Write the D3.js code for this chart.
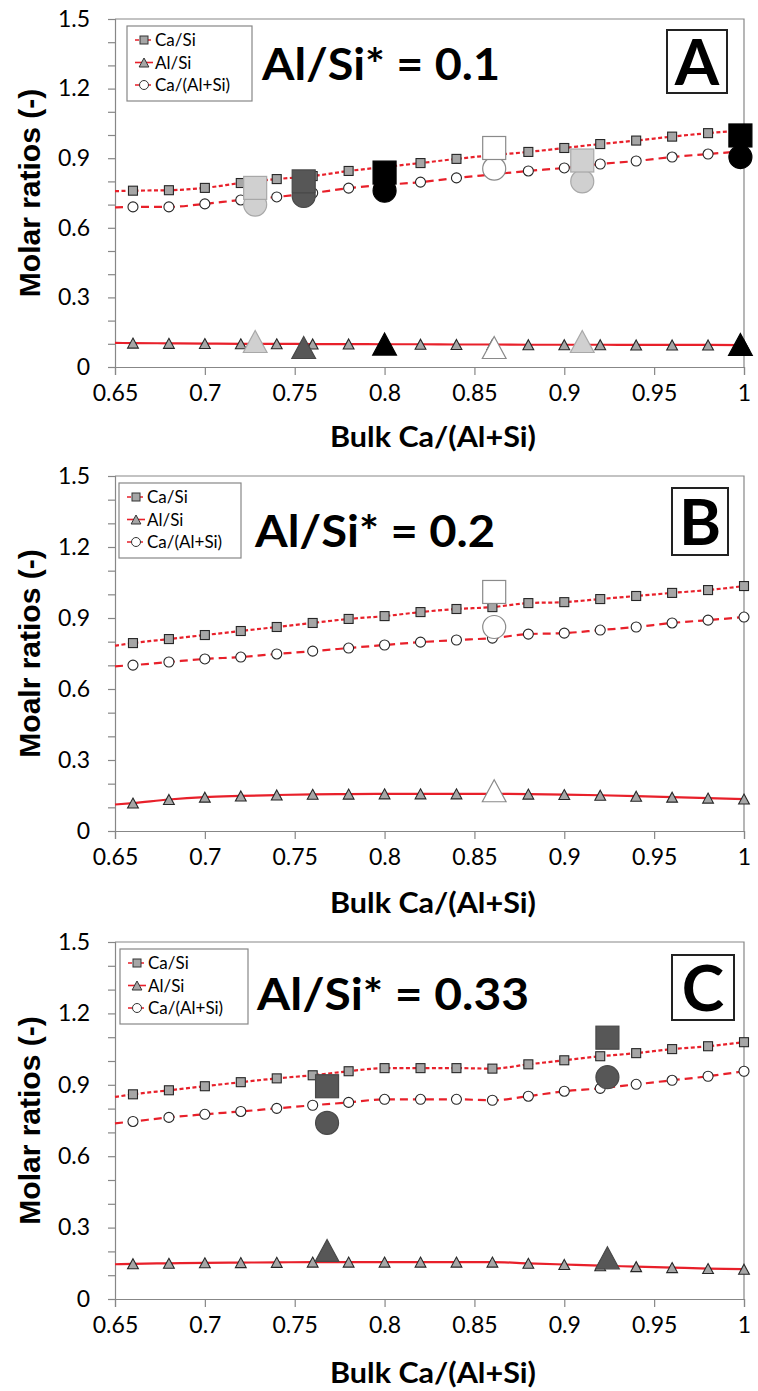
<!DOCTYPE html>
<html><head><meta charset="utf-8">
<script src="https://cdn.jsdelivr.net/npm/d3@7"></script>
<style>body{margin:0;background:#fff} svg{display:block}</style>
</head><body>
<script>
// ---------------- DATA ----------------
const xSim = [0.66,0.68,0.70,0.72,0.74,0.76,0.78,0.80,0.82,0.84,0.86,0.88,0.90,0.92,0.94,0.96,0.98,1.00];
const xTicks = [0.65,0.7,0.75,0.8,0.85,0.9,0.95,1];
const yTicks = [0,0.3,0.6,0.9,1.2,1.5];
const yMinorTicks = [0.1,0.2,0.4,0.5,0.7,0.8,1.0,1.1,1.3,1.4];
const seriesNames = ['Ca/Si','Al/Si','Ca/(Al+Si)'];
const panelLabels = ['A','B','C'];
const panelTitles = ['Al/Si* = 0.1','Al/Si* = 0.2','Al/Si* = 0.33'];
const yTitles = ['Molar ratios (-)','Moalr ratios (-)','Molar ratios (-)'];
const xTitle = 'Bulk Ca/(Al+Si)';

// Panel A (Al/Si* = 0.1) model
const A_caSi   = [0.760,0.762,0.772,0.793,0.810,0.823,0.845,0.862,0.879,0.897,0.913,0.927,0.944,0.961,0.976,0.993,1.008,1.020];
const A_alSi   = [0.103,0.102,0.101,0.100,0.100,0.099,0.099,0.098,0.098,0.097,0.097,0.096,0.096,0.096,0.095,0.095,0.095,0.094];
const A_caAlSi = [0.690,0.690,0.703,0.720,0.733,0.750,0.771,0.785,0.797,0.815,0.830,0.845,0.858,0.875,0.888,0.905,0.918,0.930];
const A_start  = [0.758,0.104,0.688];   // Ca/Si, Al/Si, Ca/(Al+Si) at 0.65
// Panel A experiments
const A_expX      = [0.728,0.755,0.800,0.861,0.910,0.998];
const A_expSample = ['light','dark','black','white','light','black'];
const A_expCaSi   = [0.772,0.800,0.838,0.944,0.890,0.998];
const A_expAlSi   = [0.110,0.084,0.099,0.084,0.110,0.097];
const A_expCaAlSi = [0.700,0.737,0.760,0.855,0.800,0.905];

// Panel B (Al/Si* = 0.2) model
const B_caSi   = [0.794,0.811,0.828,0.845,0.862,0.879,0.896,0.908,0.925,0.938,0.946,0.963,0.967,0.980,0.993,1.006,1.018,1.035];
const B_alSi   = [0.118,0.133,0.143,0.148,0.152,0.155,0.156,0.157,0.157,0.157,0.157,0.156,0.154,0.151,0.147,0.143,0.139,0.135];
const B_caAlSi = [0.701,0.714,0.727,0.735,0.748,0.760,0.773,0.786,0.798,0.807,0.815,0.832,0.836,0.849,0.862,0.879,0.891,0.904];
const B_start  = [0.783,0.112,0.696];
const B_expX      = [0.861];
const B_expSample = ['white'];
const B_expCaSi   = [1.010];
const B_expAlSi   = [0.170];
const B_expCaAlSi = [0.862];

// Panel C (Al/Si* = 0.33) model
const C_caSi   = [0.860,0.877,0.894,0.911,0.927,0.940,0.957,0.970,0.970,0.970,0.968,0.986,1.003,1.020,1.033,1.050,1.062,1.079];
const C_alSi   = [0.148,0.150,0.152,0.153,0.154,0.155,0.155,0.155,0.155,0.155,0.155,0.150,0.145,0.140,0.136,0.132,0.128,0.125];
const C_caAlSi = [0.746,0.763,0.776,0.788,0.801,0.814,0.826,0.839,0.839,0.839,0.835,0.852,0.873,0.885,0.902,0.919,0.936,0.957];
const C_start  = [0.849,0.146,0.738];
const C_expX      = [0.768,0.924];
const C_expSample = ['dark','dark'];
const C_expCaSi   = [0.894,1.098];
const C_expAlSi   = [0.204,0.173];
const C_expCaAlSi = [0.740,0.932];

// ---------------- LAYOUT / STYLE ----------------
const W = 758, H = 1391;
const left = 115, right = 744;
const layout = [
  {top:19,  bottom:367,  legX:127, legW:125, titleX:262, titleDy:61, titleW:238, boxX:667, boxW:60, boxDy:11, boxH:63, xtDy:80},
  {top:476, bottom:831,  legX:119, legW:122, titleX:255, titleDy:71, titleW:240, boxX:672, boxW:56, boxDy:12, boxH:67, xtDy:82},
  {top:942, bottom:1299, legX:120, legW:128, titleX:257, titleDy:68, titleW:272, boxX:672, boxW:62, boxDy:13, boxH:65, xtDy:84}
];
const panelData = [
  {model:[A_caSi,A_alSi,A_caAlSi], start:A_start, exp:{x:A_expX,s:A_expSample,caSi:A_expCaSi,alSi:A_expAlSi,caAlSi:A_expCaAlSi}},
  {model:[B_caSi,B_alSi,B_caAlSi], start:B_start, exp:{x:B_expX,s:B_expSample,caSi:B_expCaSi,alSi:B_expAlSi,caAlSi:B_expCaAlSi}},
  {model:[C_caSi,C_alSi,C_caAlSi], start:C_start, exp:{x:C_expX,s:C_expSample,caSi:C_expCaSi,alSi:C_expAlSi,caAlSi:C_expCaAlSi}}
];
const sampleStyle = {
  light:{fill:'#d0d0d0', stroke:'#a8a8a8'},
  dark: {fill:'#575757', stroke:'#484848'},
  black:{fill:'#000000', stroke:'#000000'},
  white:{fill:'#ffffff', stroke:'#8a8a8a'}
};
const RED = '#e8202a';
const lineDash = ['4,2.5', null, '8,5'];
const axisGray = '#878787';
const FONT = 'Lato, "Open Sans", sans-serif';

const svg = d3.select('body').append('svg').attr('width', W).attr('height', H)
  .style('background', '#fff');

const x = d3.scaleLinear().domain([0.65, 1]).range([left, right]);

function tri(cx, cy, w, h) {
  return `M${cx},${cy - h/2}L${cx + w/2},${cy + h/2}L${cx - w/2},${cy + h/2}Z`;
}
function drawMarker(g, type, cx, cy, size, fill, stroke, sw) {
  if (type === 0) {
    g.append('rect').attr('x', cx - size/2).attr('y', cy - size/2).attr('width', size).attr('height', size)
      .attr('fill', fill).attr('stroke', stroke).attr('stroke-width', sw);
  } else if (type === 1) {
    g.append('path').attr('d', tri(cx, cy, size * 1.08, size)).attr('fill', fill)
      .attr('stroke', stroke).attr('stroke-width', sw).attr('stroke-linejoin', 'miter');
  } else {
    g.append('circle').attr('cx', cx).attr('cy', cy).attr('r', size/2)
      .attr('fill', fill).attr('stroke', stroke).attr('stroke-width', sw);
  }
}
const smallFill = ['#a6a6a6', '#a6a6a6', '#ffffff'];
const smallStroke = '#262626';

layout.forEach((L, i) => {
  const P = panelData[i];
  const y = d3.scaleLinear().domain([0, 1.5]).range([L.bottom, L.top]);
  const g = svg.append('g');

  // frame (top & right)
  g.append('path').attr('d', `M${left},${L.top}H${right}V${L.bottom}`)
    .attr('fill', 'none').attr('stroke', axisGray).attr('stroke-width', 1.2);

  // x axis
  const xa = g.append('g').attr('transform', `translate(0,${L.bottom})`)
    .call(d3.axisBottom(x).tickValues(xTicks).tickSize(8).tickPadding(10)
      .tickFormat(d => String(+d.toFixed(2))));
  xa.select('.domain').attr('stroke', axisGray).attr('stroke-width', 1.2);
  xa.selectAll('.tick line').attr('stroke', axisGray).attr('stroke-width', 1.2);
  xa.selectAll('.tick text').attr('font-family', FONT).attr('font-size', 23).attr('fill', '#000');

  // y axis minor ticks
  const ym = g.append('g').attr('transform', `translate(${left},0)`)
    .call(d3.axisLeft(y).tickValues(yMinorTicks).tickSize(7).tickFormat(''));
  ym.select('.domain').remove();
  ym.selectAll('.tick line').attr('stroke', axisGray).attr('stroke-width', 1.2);
  // y axis major
  const ya = g.append('g').attr('transform', `translate(${left},0)`)
    .call(d3.axisLeft(y).tickValues(yTicks).tickSize(7).tickPadding(18)
      .tickFormat(d => String(+d.toFixed(1))));
  ya.select('.domain').attr('stroke', axisGray).attr('stroke-width', 1.2);
  ya.selectAll('.tick line').attr('stroke', axisGray).attr('stroke-width', 1.2);
  ya.selectAll('.tick text').attr('font-family', FONT).attr('font-size', 23).attr('fill', '#000');

  // axis titles
  g.append('text').attr('x', 433).attr('y', L.bottom + L.xtDy)
    .attr('text-anchor', 'middle').attr('font-family', FONT).attr('font-weight', 700)
    .attr('font-size', 28).attr('textLength', 206).attr('lengthAdjust', 'spacingAndGlyphs').text(xTitle);
  g.append('text').attr('transform', `translate(39.5,${(L.top + L.bottom) / 2}) rotate(-90)`)
    .attr('text-anchor', 'middle').attr('font-family', '"Liberation Sans", Arial, sans-serif')
    .attr('font-weight', 700).attr('font-size', 30).text(yTitles[i]);

  // model lines
  const lineGen = d3.line().x(d => x(d[0])).y(d => y(d[1])).curve(d3.curveMonotoneX);
  P.model.forEach((vals, k) => {
    const pts = [[0.65, P.start[k]]].concat(xSim.map((xv, j) => [xv, vals[j]]));
    g.append('path').attr('d', lineGen(pts)).attr('fill', 'none')
      .attr('stroke', RED).attr('stroke-width', 2.2)
      .attr('stroke-dasharray', lineDash[k]);
  });

  // small markers
  const sm = g.append('g');
  P.model.forEach((vals, k) => {
    xSim.forEach((xv, j) => {
      const sz = k === 0 ? 9 : 10;
      drawMarker(sm, k, x(xv), y(vals[j]), sz, smallFill[k], smallStroke, 1.1);
    });
  });

  // experimental (large) markers: circles, then squares, then triangles
  const E = P.exp;
  const em = g.append('g');
  const keys = ['caAlSi', 'caSi', 'alSi'];
  const types = [2, 0, 1];
  keys.forEach((key, q) => {
    E.x.forEach((xv, j) => {
      const st = sampleStyle[E.s[j]];
      const sz = types[q] === 1 ? 22 : 23;
      drawMarker(em, types[q], x(xv), y(E[key][j]), sz, st.fill, st.stroke, 1.2);
    });
  });

  // legend
  const lg = g.append('g').attr('transform', `translate(${L.legX},${L.top + 7})`);
  lg.append('rect').attr('width', L.legW).attr('height', 75).attr('fill', '#fff')
    .attr('stroke', axisGray).attr('stroke-width', 1.2);
  seriesNames.forEach((nm, k) => {
    const yy = 14 + k * 22.5;
    lg.append('line').attr('x1', 8).attr('x2', 26).attr('y1', yy).attr('y2', yy)
      .attr('stroke', RED).attr('stroke-width', 1.6).attr('stroke-dasharray', k === 1 ? null : '4,2');
    drawMarker(lg, k, 17, yy, k === 0 ? 8 : 9, smallFill[k], '#333', 1);
    lg.append('text').attr('x', 28).attr('y', yy).attr('dy', '0.36em')
      .attr('font-family', FONT).attr('font-size', 17).text(nm);
  });

  // panel title
  g.append('text').attr('x', L.titleX).attr('y', L.top + L.titleDy)
    .attr('font-family', FONT).attr('font-weight', 700).attr('font-size', 44)
    .attr('textLength', L.titleW).attr('lengthAdjust', 'spacingAndGlyphs').text(panelTitles[i]);

  // letter box
  g.append('rect').attr('x', L.boxX).attr('y', L.top + L.boxDy).attr('width', L.boxW).attr('height', L.boxH)
    .attr('fill', '#fff').attr('stroke', '#222').attr('stroke-width', 2);
  g.append('text').attr('x', L.boxX + L.boxW / 2).attr('y', L.top + L.boxDy + L.boxH / 2)
    .attr('dy', '0.36em').attr('text-anchor', 'middle')
    .attr('font-family', FONT).attr('font-weight', 700).attr('font-size', 64).text(panelLabels[i]);
});
</script>
</body></html>
